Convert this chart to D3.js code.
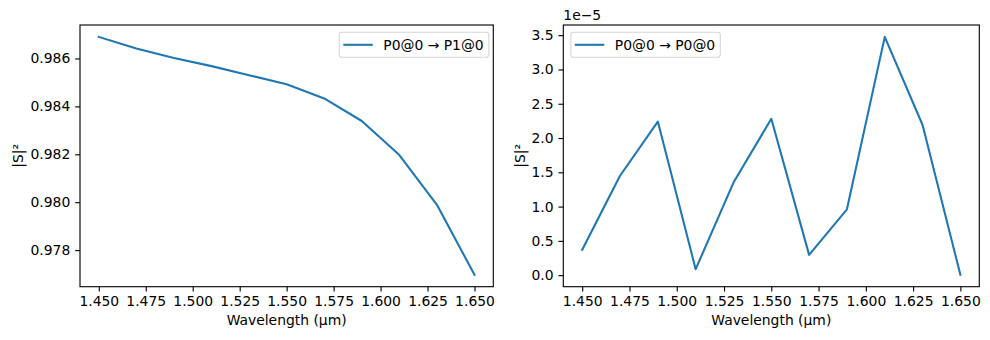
<!DOCTYPE html>
<html><head><meta charset="utf-8">
<script src="https://cdn.jsdelivr.net/npm/d3@7"></script>
<style>
body{margin:0;background:#fff;}
svg{display:block;font-family:"DejaVu Sans",sans-serif;}
</style></head><body>
<svg id="c" width="990" height="340"></svg>
<script>
const wavelengths = [1.45,1.47,1.49,1.51,1.53,1.55,1.57,1.59,1.61,1.63,1.65];
const transmission = [0.98690,0.98642,0.98602,0.98568,0.98530,0.98492,0.98433,0.98339,0.98197,0.97989,0.97697];
const reflectionE5 = [0.37,1.45,2.24,0.087,1.35,2.28,0.296,0.96,3.475,2.19,0.005];
const xTicks = [1.45,1.475,1.5,1.525,1.55,1.575,1.6,1.625,1.65];
const leftYTicks = [0.978,0.980,0.982,0.984,0.986];
const rightYTicks = [0,0.5,1.0,1.5,2.0,2.5,3.0,3.5];
const legendLabels = ["P0@0 \u2192 P1@0","P0@0 \u2192 P0@0"];

const svg = d3.select("#c");
const FS = 13.9, TICK = 4.86, PAD = 4.86, COLOR = "#1f77b4";

function padDomain(vals){
  const lo=d3.min(vals), hi=d3.max(vals), m=(hi-lo)*0.05;
  return [lo-m, hi+m];
}

function panel(opt){
  const {left,right,top,bottom,xs,ys,yTicks,yFmt,label,legendRight,offsetText}=opt;
  const g = svg.append("g");
  const x = d3.scaleLinear().domain(padDomain(xs)).range([left,right]);
  const y = d3.scaleLinear().domain(padDomain(ys)).range([bottom,top]);
  g.append("path").datum(xs.map((d,i)=>[d,ys[i]]))
    .attr("fill","none").attr("stroke",COLOR).attr("stroke-width",2.08)
    .attr("stroke-linejoin","round").attr("stroke-linecap","square")
    .attr("d", d3.line().x(d=>x(d[0])).y(d=>y(d[1])));
  g.append("rect").attr("x",left).attr("y",top).attr("width",right-left).attr("height",bottom-top)
    .attr("fill","none").attr("stroke","#000").attr("stroke-width",1.11);
  const xa = g.append("g").attr("transform",`translate(0,${bottom})`)
    .call(d3.axisBottom(x).tickValues(xTicks).tickFormat(d3.format(".3f")).tickSize(TICK).tickPadding(PAD));
  const ya = g.append("g").attr("transform",`translate(${left},0)`)
    .call(d3.axisLeft(y).tickValues(yTicks).tickFormat(yFmt).tickSize(TICK).tickPadding(PAD));
  [xa,ya].forEach(a=>{
    a.select(".domain").remove();
    a.selectAll(".tick line").attr("stroke","#000").attr("stroke-width",1.11);
    a.selectAll(".tick text").attr("fill","#000").style("font-size",FS+"px").style("font-family","DejaVu Sans");
  });
  g.append("text").attr("x",(left+right)/2).attr("y",325).attr("text-anchor","middle")
    .style("font-size",FS+"px").text("Wavelength (\u03bcm)");
  g.append("text").attr("transform",`translate(${left-(opt.ylabOff)},${(top+bottom)/2}) rotate(-90)`)
    .attr("text-anchor","middle").style("font-size",FS+"px").text("|S|\u00b2");
  if(offsetText){
    g.append("text").attr("x",left).attr("y",20).style("font-size",FS+"px").text(offsetText);
  }
  const lw=149.5, lh=25;
  const lx = legendRight ? right-4.5-lw : left+7.5;
  const ly = 32.3;
  const lg = g.append("g");
  lg.append("rect").attr("x",lx).attr("y",ly).attr("width",lw).attr("height",lh).attr("rx",2.8)
    .attr("fill","#fff").attr("fill-opacity",0.8).attr("stroke","#d6d6d6").attr("stroke-width",1.11);
  lg.append("line").attr("x1",lx+4).attr("x2",lx+33.5).attr("y1",ly+lh/2).attr("y2",ly+lh/2)
    .attr("stroke",COLOR).attr("stroke-width",2.08);
  lg.append("text").attr("x",lx+44).attr("y",ly+lh/2).attr("dy","0.36em")
    .style("font-size",FS+"px").text(label);
}

panel({left:80,right:493.3,top:25,bottom:286.7,xs:wavelengths,ys:transmission,
  yTicks:leftYTicks,yFmt:d3.format(".3f"),label:legendLabels[0],legendRight:true,ylabOff:57});
panel({left:563.3,right:979.3,top:25,bottom:286.7,xs:wavelengths,ys:reflectionE5,
  yTicks:rightYTicks,yFmt:d3.format(".1f"),label:legendLabels[1],legendRight:false,offsetText:"1e\u22125",ylabOff:38});
</script></body></html>
